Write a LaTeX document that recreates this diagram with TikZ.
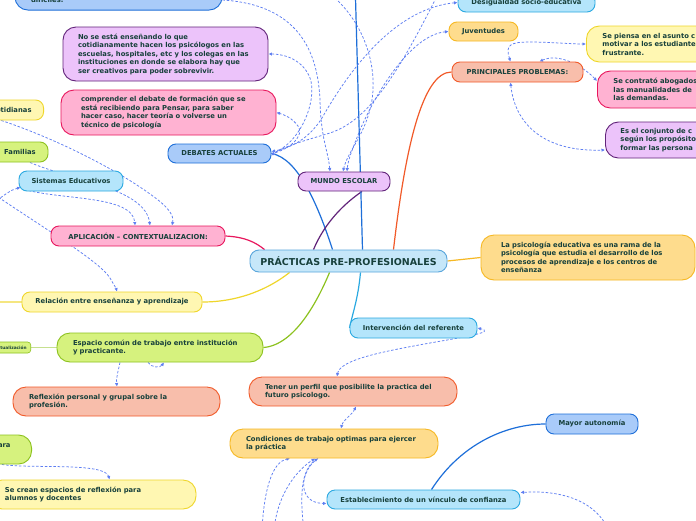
\documentclass[tikz,border=0pt]{standalone}
\usepackage{fontspec}
\setmainfont{DejaVu Sans}
\usetikzlibrary{arrows.meta}
\pgfdeclarelayer{bg}
\pgfsetlayers{bg,main}
\definecolor{txt}{HTML}{17403B}
\definecolor{bluF}{HTML}{A9CBF9}\definecolor{bluD}{HTML}{1E6FD9}
\definecolor{cyaF}{HTML}{B4E5FB}\definecolor{cyaD}{HTML}{2BA9E1}
\definecolor{cenF}{HTML}{C6E7F9}\definecolor{cenD}{HTML}{5AA6DC}
\definecolor{purF}{HTML}{ECC3FA}\definecolor{purD}{HTML}{62247A}
\definecolor{pnkF}{HTML}{FFB2D2}\definecolor{pnkD}{HTML}{E8175D}
\definecolor{orgF}{HTML}{FEDC8D}\definecolor{orgD}{HTML}{F6B823}
\definecolor{salF}{HTML}{F8BEAB}\definecolor{salD}{HTML}{F15A29}
\definecolor{yelF}{HTML}{FFF7B2}\definecolor{yelD}{HTML}{EFD62B}
\definecolor{grnF}{HTML}{D6F27E}\definecolor{grnD}{HTML}{8DC21F}
\definecolor{dsh}{HTML}{5E7EF2}
\tikzset{
  nd/.style={draw, line width=0.9pt, rounded corners=8pt, inner sep=0pt, text=txt,
    font=\bfseries\fontsize{6.8}{8.5}\selectfont},
  ml/.style={align=left, rounded corners=13pt},
  blu/.style={fill=bluF, draw=bluD},
  cya/.style={fill=cyaF, draw=cyaD},
  cen/.style={fill=cenF, draw=cenD},
  pur/.style={fill=purF, draw=purD},
  pnk/.style={fill=pnkF, draw=pnkD},
  org/.style={fill=orgF, draw=orgD},
  sal/.style={fill=salF, draw=salD},
  yel/.style={fill=yelF, draw=yelD},
  grn/.style={fill=grnF, draw=grnD},
  sl/.style={line width=1.2pt},
  dl/.style={draw=dsh, line width=0.75pt, dash pattern=on 2.5pt off 1.8pt},
  ar/.style={-{Latex[length=3.5pt,width=3.5pt]}},
  ar2/.style={{Latex[length=3.5pt,width=3.5pt]}-{Latex[length=3.5pt,width=3.5pt]}}
}
\begin{document}
\begin{tikzpicture}[x=1pt,y=-1pt]
\useasboundingbox (0,0) rectangle (696,520);
% nodes
\node[nd,ml,blu,text width=175pt,inner xsep=16pt,inner ysep=7.8pt,anchor=south] (topn) at (118.5,10.5) {\phantom{x}\\\phantom{x}\\\phantom{x}\\difíciles.};
\node[nd,ml,pur,text width=175pt,inner xsep=15pt,minimum height=54pt] (nose) at (165.5,54) {No se está enseñando lo que\\cotidianamente hacen los psicólogos en las\\escuelas, hospitales, etc y los colegas en las\\instituciones en donde se elabora hay que\\ser creativos para poder sobrevivir.};
\node[nd,ml,pnk,text width=175pt,inner xsep=20pt,minimum height=45pt] (comp) at (168.5,112.5) {comprender el debate de formación que se\\está recibiendo para Pensar, para saber\\hacer caso, hacer teoría o volverse un\\técnico de psicología};
\node[nd,blu,minimum width=103pt,minimum height=19pt] (deb) at (219.5,153.5) {DEBATES ACTUALES};
\node[nd,pur,minimum width=92pt,minimum height=19pt] (mun) at (344,181.5) {MUNDO ESCOLAR};
\node[nd,cen,minimum width=197pt,minimum height=22pt,rounded corners=9pt,font=\bfseries\fontsize{9.5}{11}\selectfont] (cen) at (348.5,261) {PRÁCTICAS PRE-PROFESIONALES};
\node[nd,cya,minimum width=137pt,minimum height=19pt] (des) at (526.5,2.5) {Desigualdad socio-educativa};
\node[nd,org,minimum width=69pt,minimum height=19pt] (juv) at (483.5,31.5) {Juventudes};
\node[nd,sal,minimum width=131pt,minimum height=20pt] (pp) at (517.5,72) {PRINCIPALES PROBLEMAS:};
\node[nd,ml,yel,anchor=west,text width=150pt,inner xsep=16pt,minimum height=36pt] (spi) at (586,44) {Se piensa en el asunto c\\motivar a los estudiante\\frustrante.};
\node[nd,ml,pnk,anchor=west,text width=150pt,inner xsep=16pt,minimum height=37pt] (sca) at (597,89.5) {Se contrató abogados\\las manualidades de\\las demandas.};
\node[nd,ml,pur,anchor=west,text width=150pt,inner xsep=15pt,minimum height=36pt] (esc) at (605,140) {Es el conjunto de c\\según los propósito\\formar las persona};
\node[nd,ml,org,text width=174pt,inner xsep=20pt,minimum height=45pt] (psi) at (588,257.5) {La psicología educativa es una rama de la\\psicología que estudia el desarrollo de los\\procesos de aprendizaje e los centros de\\enseñanza};
\node[nd,cya,minimum width=127pt,minimum height=20pt] (int) at (413.5,328) {Intervención del referente};
\node[nd,ml,sal,text width=176pt,inner xsep=16pt,minimum height=29pt] (ten) at (353,391.5) {Tener un perfil que posibilite la practica del\\futuro psicologo.};
\node[nd,ml,org,text width=176pt,inner xsep=16pt,minimum height=29pt] (con) at (334,443.5) {Condiciones de trabajo optimas para ejercer\\la práctica};
\node[nd,blu,minimum width=92pt,minimum height=20pt] (may) at (592,424) {Mayor autonomía};
\node[nd,cya,minimum width=193pt,minimum height=19pt] (est) at (423.5,499.5) {Establecimiento de un vínculo de confianza};
\node[nd,pnk,minimum width=174pt,minimum height=20pt] (apl) at (138,236) {APLICACIÓN – CONTEXTUALIZACION:};
\node[nd,cya,minimum width=104pt,minimum height=20pt] (sis) at (71,181) {Sistemas Educativos};
\node[nd,grn,minimum width=56pt,minimum height=20pt] (fam) at (20,152) {Familias};
\node[nd,yel,anchor=east,inner xsep=12pt,minimum height=20pt] (cot) at (44,110) {Cotidianas};
\node[nd,yel,minimum width=180pt,minimum height=20pt] (rel) at (112,302) {Relación entre enseñanza y aprendizaje};
\node[nd,ml,grn,text width=174pt,inner xsep=16pt,minimum height=29pt] (esp) at (160,347.5) {Espacio común de trabajo entre institución\\y practicante.};
\node[nd,grn,anchor=east,inner xsep=4pt,minimum height=11pt,rounded corners=3pt,line width=0.6pt,font=\bfseries\fontsize{4.3}{5}\selectfont] (ual) at (31,347.5) {Contextualización};
\node[nd,ml,sal,text width=175pt,inner xsep=16pt,minimum height=29pt] (ref) at (116.5,401.5) {Reflexión personal y grupal sobre la\\profesión.};
\node[nd,grn,anchor=east,align=right,inner xsep=21pt,minimum height=29pt,rounded corners=13pt] (par) at (32,449.5) {para\\\phantom{x}};
\node[nd,ml,yel,text width=175pt,inner xsep=16pt,minimum height=29pt] (scr) at (92.5,494.5) {Se crean espacios de reflexión para\\alumnos y docentes};
% connectors
\begin{pgfonlayer}{bg}
\fill[white] (0,0) rectangle (696,520);
\coordinate (topv) at (355,-20);
\coordinate (relL) at (-20,302);
\coordinate (o2) at (325,-10);
\coordinate (o5) at (440,-10);
\coordinate (o7) at (-10,205);
\coordinate (o8) at (-5,195);
\coordinate (o10) at (262,530);
\coordinate (o11) at (274,530);
\coordinate (o12) at (304,530);
\coordinate (o13) at (606,525);
% solid
\draw[sl,draw=bluD] ([xshift=-16pt]cen.north) .. controls (318,205) and (298,158) .. (deb.east);
\draw[sl,draw=purD] ([xshift=-35pt]cen.north) .. controls (325,222) and (345,203) .. ([xshift=18pt]mun.south);
\draw[sl,draw=bluD] ([xshift=14pt]cen.north) -- (topv);
\draw[sl,draw=salD] ([xshift=45pt]cen.north) .. controls (405,150) and (422,72) .. (pp.west);
\draw[sl,draw=orgD] (cen.east) -- (psi.west);
\draw[sl,draw=cyaD] ([xshift=12pt]cen.south) .. controls (358,300) and (352,315) .. (int.west);
\draw[sl,draw=pnkD] (apl.east) .. controls (245,237) and (255,242) .. ([xshift=15pt]cen.north west);
\draw[sl,draw=yelD] (rel.east) .. controls (240,302) and (270,288) .. ([xshift=40pt]cen.south west);
\draw[sl,draw=grnD] (esp.east) .. controls (295,345) and (318,300) .. ([xshift=80pt]cen.south west);
\draw[sl,draw=yelD!60] (rel.west) -- (relL);
\draw[line width=0.8pt,draw=grnD!50] (esp.west) -- (ual.east);
\draw[sl,draw=bluD] ([xshift=8pt]est.north) .. controls (460,445) and (505,424) .. (may.west);
% dashed
\draw[dl,ar] ([yshift=10.5pt]topn.south east) .. controls (305,5) and (318,60) .. (320,100) .. controls (321,140) and (328,150) .. ([xshift=-14pt]mun.north);
\draw[dl,ar] (o2) .. controls (360,15) and (378,60) .. (372,100) .. controls (366,135) and (348,150) .. ([xshift=-1pt]mun.north);
\draw[dl,ar2] (des.west) .. controls (400,8) and (355,60) .. (322,118) .. controls (308,140) and (290,148) .. ([yshift=2pt]deb.east);
\draw[dl,ar2] (juv.west) .. controls (410,35) and (375,95) .. (360,130) .. controls (352,150) and (348,160) .. ([xshift=3pt]mun.north);
\draw[dl,ar] (o5) .. controls (400,70) and (370,120) .. (330,133) .. controls (300,142) and (285,146) .. ([yshift=-2pt]deb.east);
\draw[dl,ar] (deb.east) .. controls (300,145) and (318,100) .. (310,78) .. controls (303,60) and (285,54) .. (nose.east);
\draw[dl,ar] (deb.east) .. controls (290,150) and (305,135) .. (298,126) .. controls (292,118) and (285,115) .. (comp.east);
\draw[dl,ar2] ([xshift=-7pt]pp.north) .. controls (505,45) and (510,42) .. (530,42) .. controls (550,42) and (570,44) .. (spi.west);
\draw[dl,ar2] ([xshift=22pt]pp.north) .. controls (560,52) and (585,68) .. ([yshift=8.5pt]sca.west);
\draw[dl,ar2] ([xshift=-7pt]pp.south) .. controls (515,125) and (545,152) .. ([yshift=-10pt]esc.west);
\draw[dl,ar] ([xshift=-10pt]cot.south) .. controls (60,140) and (120,172) .. (150,194) .. controls (170,208) and (174,216) .. ([xshift=34pt]apl.north);
\draw[dl,ar] ([xshift=10pt]fam.south) .. controls (70,180) and (145,188) .. ([xshift=12pt]apl.north);
\draw[dl,ar] ([xshift=6pt,yshift=2pt]sis.south west) .. controls (60,200) and (133,195) .. ([xshift=-3pt]apl.north);
\draw[dl,ar] (o7) .. controls (5,195) and (10,190) .. ([xshift=2pt,yshift=4pt]sis.south west);
\draw[dl,ar] (o8) .. controls (50,232) and (100,262) .. (110,278) .. controls (114,285) and (116,288) .. ([xshift=5pt]rel.north);
\draw[dl,ar] ([xshift=-40pt]esp.south) .. controls (118,372) and (116,378) .. ([xshift=0.5pt]ref.north);
\draw[dl,ar] ([xshift=-12pt]esp.south) .. controls (152,368) and (160,368) .. ([xshift=4pt]esp.south);
\draw[dl,ar] (par.south) .. controls (30,469) and (105,462) .. ([xshift=17pt]scr.north);
\draw[dl,ar2] ([xshift=-16pt]ten.north) .. controls (340,360) and (380,352) .. (430,343) .. controls (470,336) and (495,332) .. (int.east);
\draw[dl,ar2] ([xshift=3pt]ten.south) .. controls (352,415) and (343,420) .. ([xshift=7pt]con.north);
\draw[dl,ar] (o10) .. controls (264,490) and (272,462) .. ([xshift=-44pt]con.south);
\draw[dl,ar] (o11) .. controls (278,490) and (300,468) .. ([xshift=-19pt]con.south);
\draw[dl,ar] (o12) .. controls (300,500) and (300,470) .. ([xshift=-16pt]con.south);
\draw[dl,ar] ([xshift=-16pt]con.south) .. controls (300,470) and (296,503) .. ([yshift=-4pt]est.west);
\draw[dl,ar] (o13) .. controls (592,500) and (560,490) .. ([yshift=7pt]est.east);
\end{pgfonlayer}
\end{tikzpicture}
\end{document}
